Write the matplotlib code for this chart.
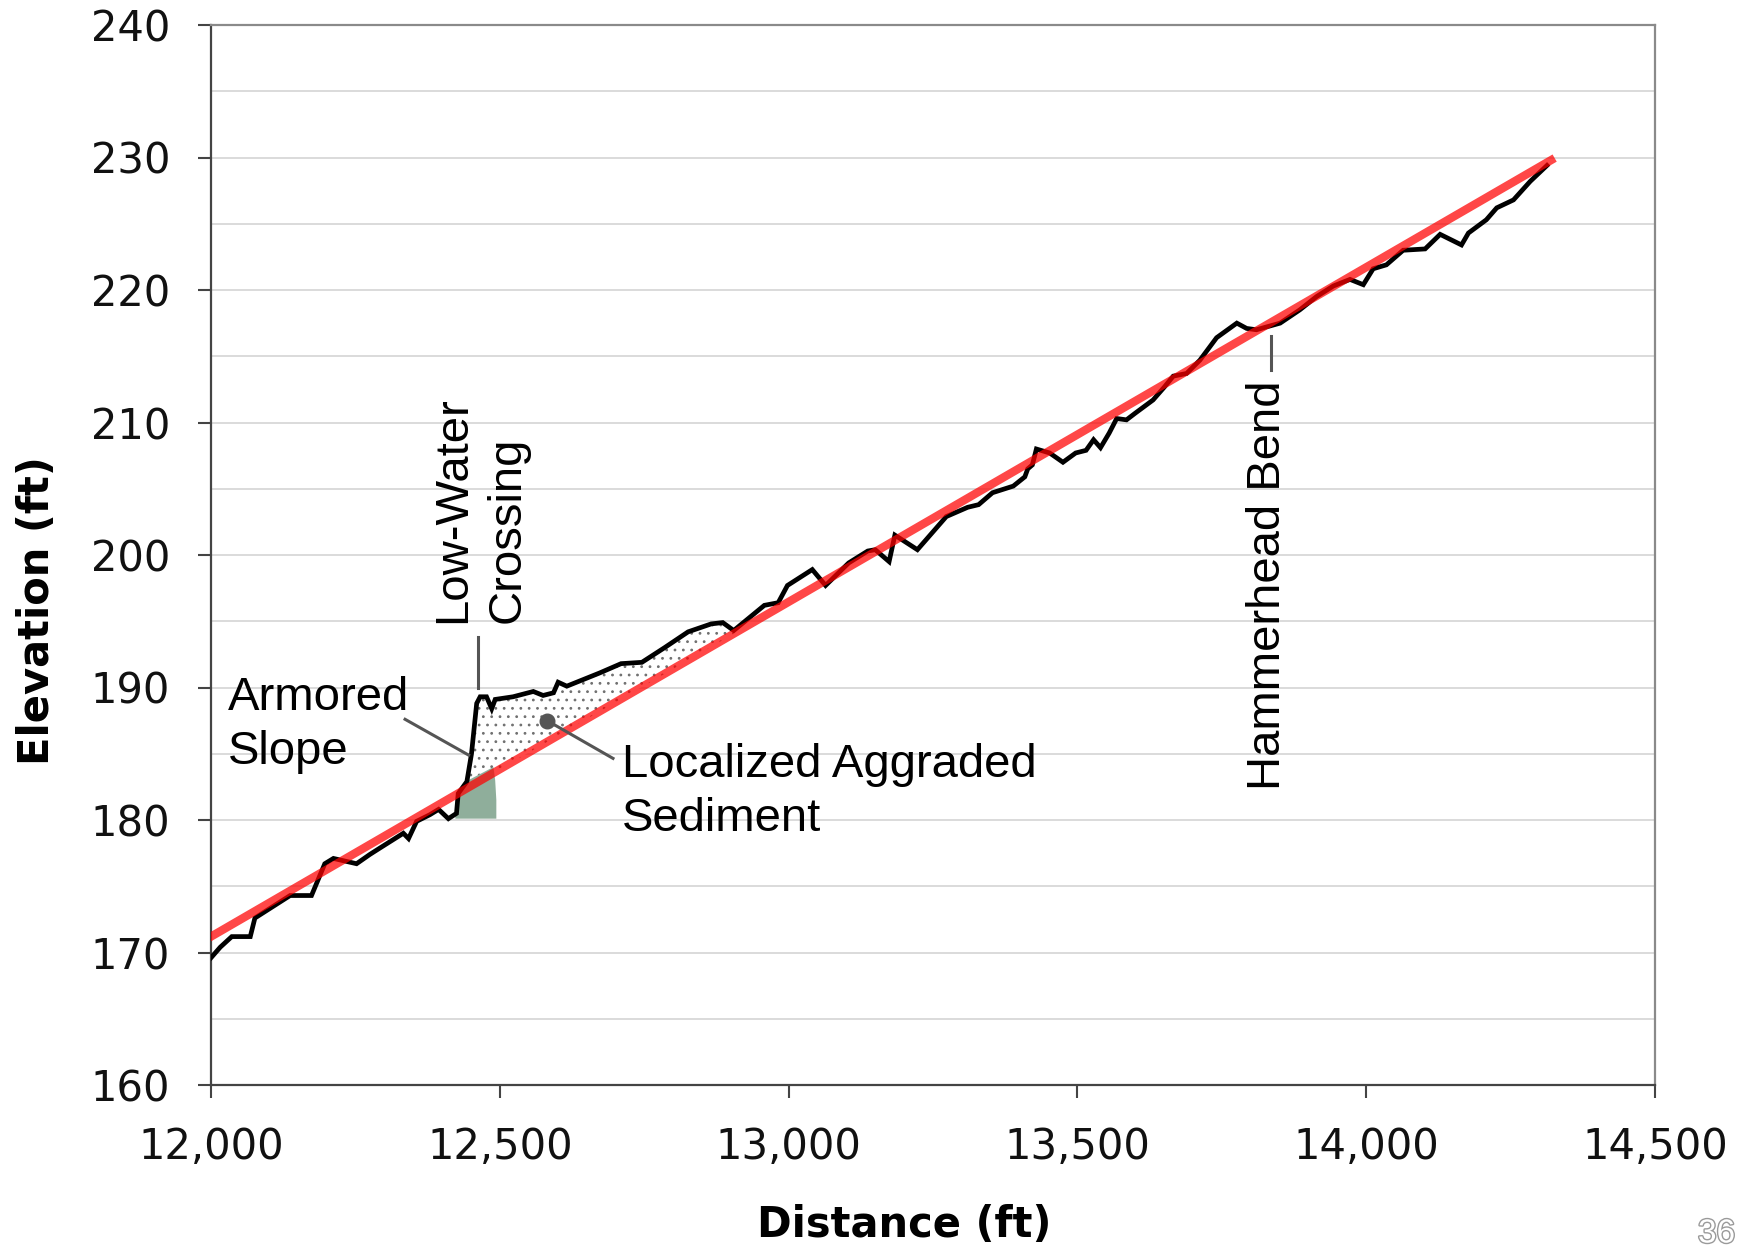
import matplotlib
matplotlib.use("Agg")
import matplotlib.pyplot as plt
import matplotlib.patheffects as pe
from matplotlib.ticker import FuncFormatter, MultipleLocator
import numpy as np

# channel profile (distance ft, elevation ft)
distance = [12000, 12016, 12036, 12068, 12076, 12137, 12174, 12197, 12212, 12252,
            12275, 12293, 12333, 12342, 12356, 12379, 12394, 12411, 12425, 12428,
            12443, 12451, 12460, 12466, 12477, 12486, 12492, 12523, 12558, 12575,
            12593, 12601, 12616, 12673, 12710, 12746, 12785, 12826, 12866, 12886,
            12905, 12958, 12982, 12998, 13041, 13064, 13104, 13137, 13150, 13174,
            13184, 13223, 13237, 13273, 13310, 13329, 13353, 13389, 13409, 13414,
            13422, 13429, 13452, 13475, 13497, 13515, 13528, 13540, 13555, 13568,
            13585, 13600, 13631, 13651, 13666, 13689, 13712, 13741, 13776, 13793,
            13810, 13851, 13885, 13914, 13943, 13972, 13995, 14012, 14035, 14064,
            14102, 14128, 14165, 14177, 14208, 14226, 14255, 14284, 14313]
elevation = [169.6, 170.4, 171.2, 171.2, 172.6, 174.3, 174.3, 176.7, 177.1, 176.7,
             177.4, 177.9, 179.0, 178.6, 179.9, 180.4, 180.8, 180.1, 180.5, 182.0,
             182.9, 185.0, 188.8, 189.3, 189.3, 188.4, 189.1, 189.3, 189.7, 189.4,
             189.6, 190.4, 190.1, 191.1, 191.8, 191.9, 193.0, 194.2, 194.8, 194.9,
             194.3, 196.2, 196.4, 197.7, 198.9, 197.7, 199.4, 200.3, 200.4, 199.5,
             201.5, 200.4, 201.1, 202.9, 203.6, 203.8, 204.7, 205.2, 205.9, 206.5,
             206.8, 208.0, 207.7, 207.0, 207.7, 207.9, 208.7, 208.1, 209.2, 210.3,
             210.2, 210.7, 211.7, 212.7, 213.5, 213.7, 214.7, 216.4, 217.5, 217.1,
             217.0, 217.5, 218.5, 219.5, 220.3, 220.8, 220.4, 221.6, 221.9, 223.0,
             223.1, 224.2, 223.4, 224.3, 225.3, 226.2, 226.8, 228.2, 229.4]

# equilibrium grade line
trend_x = [12000, 14320]
trend_y = [171.2, 229.8]

# armored slope block
armor_x = [12423, 12428, 12441, 12489, 12492, 12494, 12494, 12423]
armor_y = [180.3, 182.0, 182.9, 184.0, 183.0, 181.5, 180.1, 180.1]

# aggraded sediment stretch
agg_start, agg_end = 12440, 12900

x_ticks = np.arange(12000, 14501, 500)
y_ticks = np.arange(160, 241, 10)

ann_font = "Liberation Sans"
ann_size = 34
lead_col = "#555555"

plt.rcParams["hatch.linewidth"] = 0.8

fig = plt.figure(figsize=(17.41, 12.49), dpi=100)
ax = fig.add_axes([211 / 1741, 1 - 1085 / 1249, (1655 - 211) / 1741, (1085 - 25) / 1249])

ax.set_xlim(12000, 14500)
ax.set_ylim(160, 240)
ax.set_xticks(x_ticks)
ax.set_yticks(y_ticks)
ax.yaxis.set_minor_locator(MultipleLocator(5))
ax.xaxis.set_major_formatter(FuncFormatter(lambda v, p: f"{int(v):,}"))
ax.tick_params(axis="both", which="major", direction="out", length=9.5, width=1.5,
               color="#444444", labelsize=30, pad=20, labelcolor="#111111")
ax.tick_params(axis="y", which="minor", length=0)
ax.grid(axis="y", which="both", color="#d4d4d4", linewidth=1.2)
ax.set_axisbelow(True)
for side in ["left", "bottom"]:
    ax.spines[side].set_color("#444444")
    ax.spines[side].set_linewidth(1.6)
for side in ["top", "right"]:
    ax.spines[side].set_color("#8a8a8a")
    ax.spines[side].set_linewidth(1.6)

d = np.array(distance, dtype=float)
e = np.array(elevation, dtype=float)
grade = np.interp(d, trend_x, trend_y)
mask = (d >= agg_start) & (d <= agg_end)
ax.fill_between(d, grade, e, where=mask & (e >= grade), interpolate=True,
                facecolor="white", edgecolor="#707070", hatch="..", linewidth=0, zorder=2)

ax.fill(armor_x, armor_y, color="#8fae9b", linewidth=0, zorder=2)

ax.plot(d, e, color="black", linewidth=3.4, solid_joinstyle="miter", zorder=3)
ax.plot(trend_x, trend_y, color="#ff0000", alpha=0.72, linewidth=6, zorder=4)

# leaders
ax.plot([12336, 12446], [187.6, 184.9], color=lead_col, linewidth=2.2, zorder=5)
ax.plot([12463, 12463], [193.8, 190.0], color=lead_col, linewidth=2.2, zorder=5)
ax.plot([13836, 13836], [216.5, 214.0], color=lead_col, linewidth=2.2, zorder=5)
ax.plot([12582, 12696], [187.5, 184.65], color=lead_col, linewidth=2.2, zorder=5)
ax.plot([12582], [187.5], "o", color=lead_col, markersize=10.5, zorder=5)

ax.text(12029, 187.2, "Armored\nSlope", fontsize=ann_size, family=ann_font,
        ha="left", va="center", linespacing=1.3, zorder=6)
ax.text(12711, 182.1, "Localized Aggraded\nSediment", fontsize=ann_size, family=ann_font,
        ha="left", va="center", linespacing=1.3, zorder=6)
ax.text(12466, 194.9, "Low-Water\nCrossing", fontsize=ann_size, family=ann_font,
        rotation=90, ha="center", va="bottom", multialignment="left",
        linespacing=1.3, zorder=6)
ax.text(13830, 182.3, "Hammerhead Bend", fontsize=ann_size, family=ann_font,
        rotation=90, ha="center", va="bottom", zorder=6)

fig.text(37 / 1741, 1 - 611 / 1249, "Elevation (ft)", fontsize=30, fontweight="bold",
         rotation=90, ha="center", va="center")
fig.text(904 / 1741, 1 - 1225 / 1249, "Distance (ft)", fontsize=30, fontweight="bold",
         ha="center", va="center")

fig.text(1698 / 1741, 1 - 1234 / 1249, "36", fontsize=24, family=ann_font,
         color="white", ha="left", va="center",
         path_effects=[pe.withStroke(linewidth=2, foreground="#9a9a9a")])

fig.savefig("out.png", dpi=100)
